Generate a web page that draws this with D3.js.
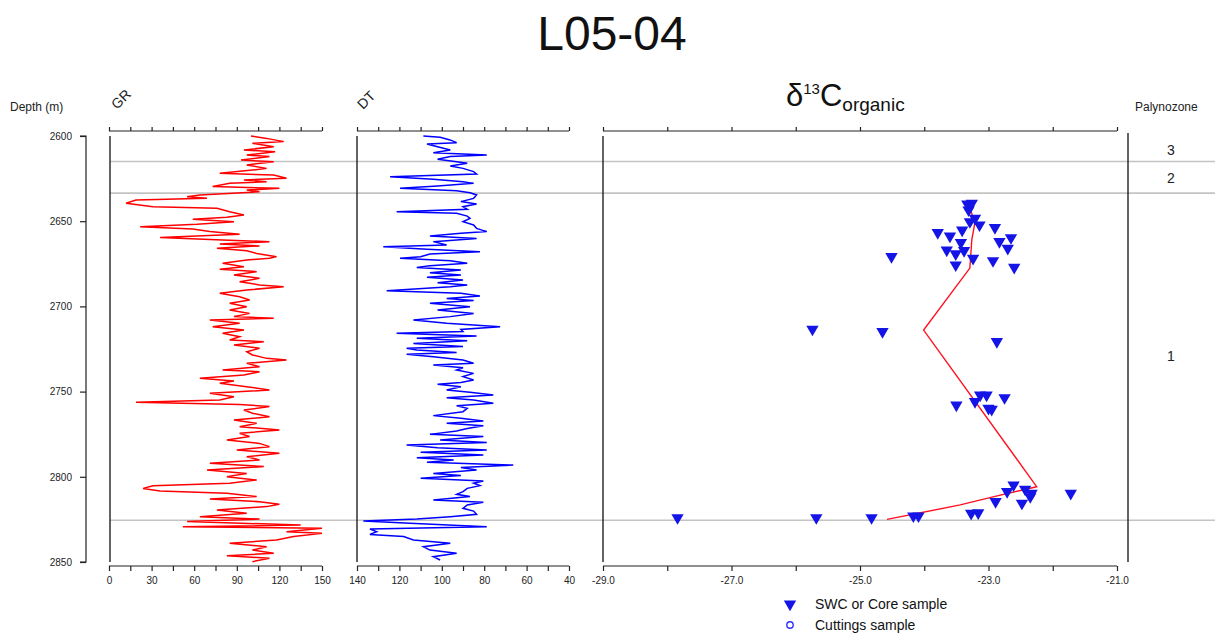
<!DOCTYPE html>
<html><head><meta charset="utf-8">
<script src="https://cdn.jsdelivr.net/npm/d3@7/dist/d3.min.js"></script>
<style>
html,body{margin:0;padding:0;background:#fff;}
svg{display:block;font-family:"Liberation Sans",Arial,sans-serif;}
.axis path,.axis line{stroke:#222;stroke-width:1.2px;}
.axis text{font-size:10px;fill:#222;font-family:"Liberation Sans",Arial,sans-serif;}
</style></head>
<body>
<script>
// ---------- DATA ----------
const grDepth = [2600.0,2601.4,2603.3,2604.3,2606.3,2608.2,2609.2,2611.2,2612.1,2614.1,2615.1,2617.0,2619.0,2620.0,2621.9,2622.9,2624.8,2625.8,2626.8,2627.8,2629.7,2630.7,2631.7,2632.7,2634.6,2635.6,2636.6,2637.6,2639.5,2641.5,2642.4,2644.4,2646.4,2647.7,2648.9,2650.3,2651.8,2653.2,2654.6,2656.1,2657.7,2659.5,2661.0,2662.0,2663.4,2664.5,2665.9,2667.3,2668.9,2670.8,2671.8,2672.8,2674.7,2676.7,2678.2,2679.6,2681.6,2683.5,2685.5,2687.4,2688.4,2690.4,2692.3,2694.3,2696.2,2698.2,2700.2,2702.1,2704.1,2706.0,2707.0,2708.0,2709.9,2711.9,2713.8,2715.8,2717.8,2719.7,2720.7,2722.6,
2724.6,2726.6,2728.5,2730.5,2731.5,2733.4,2735.4,2737.3,2738.3,2740.3,2742.2,2743.8,2745.1,2747.1,2749.1,2751.0,2753.0,2754.9,2756.3,2757.5,2758.8,2760.8,2762.7,2764.7,2766.7,2768.6,2770.6,2772.5,2774.5,2776.4,2778.4,2780.4,2782.3,2784.3,2786.2,2788.2,2790.1,2792.1,2794.0,2796.0,2798.0,2799.9,2801.9,2803.8,2805.2,2806.8,2808.3,2809.7,2811.6,2813.0,2814.6,2816.1,2817.5,2819.5,2821.4,2823.4,2824.8,2826.3,2828.3,2829.3,2830.2,2832.2,2833.2,2835.1,2837.1,2839.0,2841.0,2843.0,2844.9,2846.3,2847.8,2849.8];
const grValue = [100,111,123,101,116,95,117,97,113,93,116,97,111,101,78,116,125,95,111,85,73,120,97,106,64,55,69,19,12,31,76,85,95,83,59,88,62,22,59,71,92,36,80,113,78,106,76,97,104,118,113,97,80,95,78,104,88,106,92,106,123,97,78,92,99,85,97,85,99,88,116,71,92,73,95,80,92,85,109,88,
106,97,101,111,125,97,106,80,106,95,64,88,78,97,113,71,88,78,19,92,113,95,101,113,88,104,92,120,92,99,83,106,113,90,120,97,106,71,109,69,97,83,104,85,31,24,36,83,104,71,106,120,111,76,97,64,106,55,135,52,150,125,150,130,118,85,111,101,116,83,113,101];

const dtDepth = [2600.0,2600.8,2602.3,2603.9,2604.7,2606.3,2608.2,2609.8,2611.2,2612.1,2613.7,2615.1,2616.0,2617.6,2619.0,2620.9,2622.3,2623.9,2625.4,2626.8,2627.8,2629.3,2630.7,2632.1,2633.3,2634.6,2636.6,2638.5,2639.9,2641.5,2643.0,2644.4,2645.4,2647.0,2648.3,2650.3,2652.2,2654.2,2656.1,2657.1,2658.7,2660.1,2662.0,2664.0,2665.0,2666.5,2667.9,2669.2,2670.8,2671.8,2673.2,2674.7,2676.1,2677.1,2678.6,2680.2,2681.6,2682.9,2684.5,2686.1,2687.4,2688.4,2690.8,2692.3,2693.9,2695.3,2696.6,2698.2,2700.2,2702.1,2704.1,2706.0,2708.0,2709.9,2711.9,2713.5,2714.8,2715.8,2717.4,2718.7,2720.1,2721.7,2723.6,2724.6,
2725.6,2727.0,2728.1,2729.5,2731.5,2733.4,2734.4,2736.0,2737.3,2739.3,2741.2,2743.2,2744.6,2745.7,2747.1,2749.1,2750.4,2752.0,2753.6,2754.9,2756.9,2758.3,2759.8,2761.8,2764.1,2765.7,2767.2,2768.6,2770.0,2771.6,2773.1,2775.1,2776.4,2778.4,2779.8,2781.3,2782.9,2784.3,2785.6,2787.2,2788.8,2790.1,2791.5,2793.1,2794.6,2796.0,2798.0,2799.3,2800.9,2802.5,2803.8,2805.2,2806.8,2808.7,2810.3,2811.6,2813.6,2815.0,2816.5,2818.5,2820.1,2822.0,2823.4,2824.8,2826.0,2827.3,2829.3,2830.6,2832.2,2833.8,2835.1,2837.1,2839.0,2841.0,2843.0,2844.9,2846.9,2848.8];
const dtValue = [108.7,100.8,96.1,93,107,102,96,104,78.8,96,102,93,88,96,90,85,83.6,124.4,104,90,85,102,119.7,93,86.7,83.6,85,91,83.6,90,88,121.3,93,88,86.7,90,85,83.6,78.8,91,105.6,83.6,104,97.7,127.6,107,82,105.6,110,119.7,96,88,105.6,111.8,91,105.6,91,107,90,102,88,96,126,91,82,97.7,85,105.6,86.7,102,85,96,113.4,97.7,72.5,91,90,121.3,83.6,111.8,88,113.4,90,116.6,
111.8,93,116.6,104,90,85,104,90,93,85,90,85,91,102,91,97.7,86.7,75.7,97.7,85,75.7,93,88,90,104,91,80.4,97.7,80.4,88,93,105.6,80.4,100.8,78.8,116.6,102,78.8,110,80.4,111.8,94.4,107,66.3,91,83.6,104,91,110,80.4,85,82,88,90,93,86.7,104,80.4,88,90,85,83.6,96,111.8,137,115,78.8,133.9,130.7,133.9,118,113.4,96,108.7,105.6,93,104,100.8];

// SWC or core samples (delta 13C organic, permil)
const swcDepth = [2639.9,2639.5,2643.4,2648.3,2650.3,2652.2,2656.7,2658.7,2655.2,2653.8,2662.0,2659.7,2665.9,2662.6,2666.9,2669.2,2667.3,2671.8,2675.7,2673.2,2677.1,2670.8,
2713.4,2714.8,2720.7,2752.0,2752.0,2753.6,2757.9,2755.9,2759.8,2760.4,
2824.0,2824.0,2824.0,2823.0,2823.0,2821.4,2821.1,2814.6,2808.7,2804.8,2807.3,2815.5,2811.7,2809.7,2809.7];
const swcValue = [-23.33,-23.26,-23.31,-23.21,-23.29,-23.14,-23.79,-23.60,-23.41,-22.90,-22.83,-22.65,-22.70,-23.43,-23.65,-23.51,-23.38,-23.24,-23.51,-22.93,-22.60,-24.51,
-25.74,-24.65,-22.87,-23.13,-23.03,-22.75,-23.50,-23.21,-23.00,-22.95,
-27.84,-25.68,-24.82,-24.17,-24.09,-23.27,-23.16,-22.89,-22.71,-22.61,-22.43,-22.48,-22.35,-22.33,-21.72];

// trend line (red)
const trendDepth = [2638.7,2650.5,2661.0,2677.5,2713.9,2805.8,2811.8,2816.5,2825.0];
const trendValue = [-23.33,-23.21,-23.26,-23.29,-24.01,-22.25,-22.93,-23.44,-24.58];

const depthTicks = [2600,2650,2700,2750,2800,2850];
const grTicks = [0,15,30,45,60,75,90,105,120,135,150];
const dtTicks = [140,130,120,110,100,90,80,70,60,50,40];
const c13Ticks = [-29,-28,-27,-26,-25,-24,-23,-22,-21];
const boundaryDepths = [2615,2633.5,2825.5];
const zoneLabels = ["3","2","1"];
const zoneMid = [2608,2624.5,2729];

// ---------- CHART ----------
const W = 1227, H = 633;
const svg = d3.select("body").append("svg").attr("width", W).attr("height", H);

const y = d3.scaleLinear().domain([2600, 2850]).range([136, 562]);
const xGR = d3.scaleLinear().domain([0, 150]).range([109, 322]);
const xDT = d3.scaleLinear().domain([140, 40]).range([357, 569]);
const xC = d3.scaleLinear().domain([-29, -21]).range([603, 1117]);

// title
svg.append("text").attr("x", 612).attr("y", 50).attr("text-anchor", "middle")
  .style("font-size", "48px").style("fill", "#111").text("L05-04");

// horizontal boundary lines
svg.selectAll(".bnd").data(boundaryDepths).enter().append("line")
  .attr("x1", 110).attr("x2", 1215)
  .attr("y1", d => y(d)).attr("y2", d => y(d))
  .attr("stroke", "#c4c4c4").attr("stroke-width", 1.6);

// depth axis
const depthAxis = d3.axisLeft(y).tickValues(depthTicks).tickSize(6).tickPadding(8).tickFormat(d3.format("d"));
svg.append("g").attr("class", "axis").attr("transform", "translate(86,0)").call(depthAxis)
  .call(g => g.select(".domain").attr("d", "M-6,136H0V562H-6"));

svg.append("text").attr("x", 10).attr("y", 111).style("font-size", "12px").style("fill", "#222").text("Depth (m)");

// helper for panel axes
function panel(x, ticks, labelEvery, fmt) {
  const top = d3.axisTop(x).tickValues(ticks).tickSize(4).tickFormat("");
  svg.append("g").attr("class", "axis").attr("transform", "translate(0,131)").call(top)
    .call(g => g.select(".domain").attr("d", `M${x.range()[0]},0H${x.range()[1]}`));
  const bot = d3.axisBottom(x).tickValues(ticks).tickSize(5).tickPadding(6)
    .tickFormat((d, i) => (i % labelEvery === 0 ? fmt(d) : ""));
  svg.append("g").attr("class", "axis").attr("transform", "translate(0,566)").call(bot)
    .call(g => g.select(".domain").attr("d", `M${x.range()[0]},0H${x.range()[1]}`));
}
panel(xGR, grTicks, 2, d => String(d));
panel(xDT, dtTicks, 2, d => String(d));
panel(xC, c13Ticks, 2, d => d.toFixed(1));

// panel vertical lines
[110, 357, 603, 1128].forEach(xx => {
  svg.append("line").attr("x1", xx).attr("x2", xx).attr("y1", xx === 1128 ? 133 : 136).attr("y2", 562)
    .attr("stroke", "#222").attr("stroke-width", 1.4);
});

// headers
svg.append("text").attr("transform", "translate(117,110) rotate(-45)").style("font-size", "14px").style("fill", "#222").text("GR");
svg.append("text").attr("transform", "translate(363,110) rotate(-45)").style("font-size", "14px").style("fill", "#222").text("DT");
const ht = svg.append("text").attr("x", 786).attr("y", 106).style("fill", "#111");
ht.append("tspan").style("font-size", "31px").text("δ");
ht.append("tspan").style("font-size", "15px").attr("dy", -12).text("13");
ht.append("tspan").style("font-size", "31px").attr("dy", 12).text("C");
ht.append("tspan").style("font-size", "19px").attr("dy", 5).text("organic");
svg.append("text").attr("x", 1135).attr("y", 111).style("font-size", "12px").style("fill", "#222").text("Palynozone");

// GR log
const grData = grDepth.map((d, i) => ({ d, v: grValue[i] }));
svg.append("path").datum(grData)
  .attr("d", d3.line().x(p => xGR(Math.min(p.v, 150))).y(p => y(p.d)))
  .attr("fill", "none").attr("stroke", "#ff0000").attr("stroke-width", 1.5);

// DT log
const dtData = dtDepth.map((d, i) => ({ d, v: dtValue[i] }));
svg.append("path").datum(dtData)
  .attr("d", d3.line().x(p => xDT(p.v)).y(p => y(p.d)))
  .attr("fill", "none").attr("stroke", "#0000ff").attr("stroke-width", 1.5);

// trend line
const trData = trendDepth.map((d, i) => ({ d, v: trendValue[i] }));
svg.append("path").datum(trData)
  .attr("d", d3.line().x(p => xC(p.v)).y(p => y(p.d)))
  .attr("fill", "none").attr("stroke", "#ff1020").attr("stroke-width", 1.4);

// SWC triangles
const tri = d3.symbol().type(d3.symbolTriangle).size(66);
const swc = swcDepth.map((d, i) => ({ d, v: swcValue[i] }));
svg.selectAll(".swc").data(swc).enter().append("path")
  .attr("d", tri)
  .attr("transform", p => `translate(${xC(p.v)},${y(p.d)}) rotate(180)`)
  .attr("fill", "#1414e6");

// zone labels
svg.selectAll(".zl").data(zoneLabels).enter().append("text")
  .attr("x", 1171).attr("y", (d, i) => y(zoneMid[i]) + 5).attr("text-anchor", "middle")
  .style("font-size", "14px").style("fill", "#222").text(d => d);

// legend
svg.append("path").attr("d", tri).attr("transform", "translate(790,604) rotate(180)").attr("fill", "#1414e6");
svg.append("text").attr("x", 815).attr("y", 609).style("font-size", "14px").style("fill", "#111").text("SWC or Core sample");
svg.append("circle").attr("cx", 790).attr("cy", 625).attr("r", 3.2).attr("fill", "none").attr("stroke", "#3030ff").attr("stroke-width", 1.4);
svg.append("text").attr("x", 815).attr("y", 630).style("font-size", "14px").style("fill", "#111").text("Cuttings sample");
</script>
</body></html>
